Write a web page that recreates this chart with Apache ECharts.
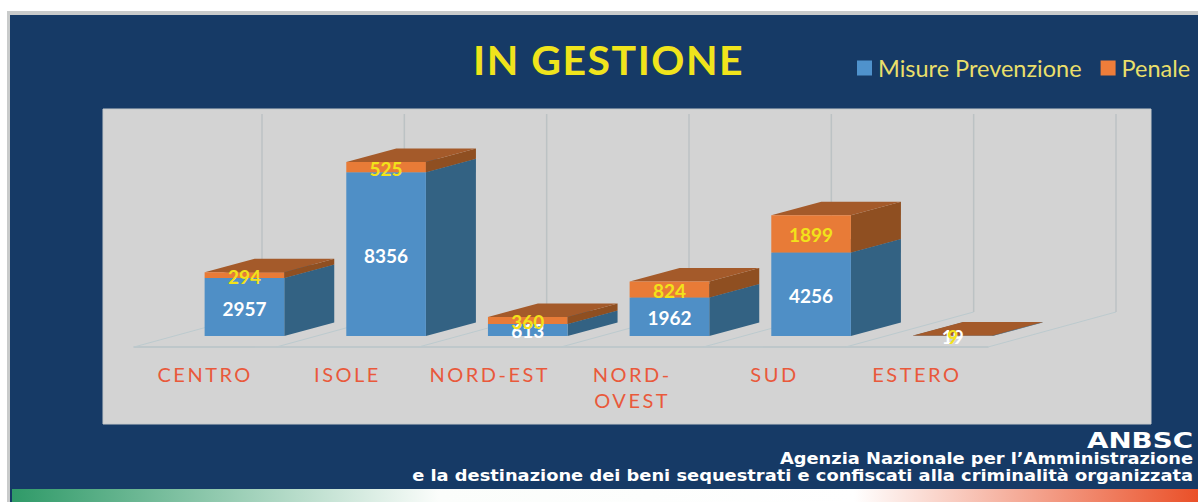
<!DOCTYPE html>
<html>
<head>
<meta charset="utf-8">
<title>In gestione</title>
<script src="https://cdn.jsdelivr.net/npm/echarts@6/dist/echarts.min.js"></script>
<style>
  html, body { margin: 0; padding: 0; background: #fff; }
  #chart { width: 1198px; height: 502px; }
  /* the svg renderer lets css space out the letters */
  #chart text[fill="#f0e41c"] { letter-spacing: 1.5px; }
  #chart text[fill="#e9593b"] { letter-spacing: 2.5px; }
</style>
</head>
<body>
<div id="chart"></div>
<script>
const categories = ['CENTRO', 'ISOLE', 'NORD-EST', 'NORD-OVEST', 'SUD', 'ESTERO']
const misure = [2957, 8356, 613, 1962, 4256, 19]
const penale = [294, 525, 360, 824, 1899, 9]

const depthBar = [50, -13.5]
const depthFloor = [128, -35]
const labelFont = 'Lato'

// one stacked block: front face, side face, top face, value on the front
function block(colors, textColor, layer) {
  return function (params, api) {
    const i = api.value(0)
    const base = api.value(1)
    const top = api.value(2)
    const w = api.size([1, 0])[0] * 0.562
    const p0 = api.coord([i, base])
    const p1 = api.coord([i, top])
    const xl = p0[0] - w / 2
    const xr = p0[0] + w / 2
    const dx = depthBar[0]
    const dy = depthBar[1]
    return {
      type: 'group',
      children: [
        {
          type: 'polygon',
          z2: layer,
          shape: { points: [[xr, p0[1]], [xr + dx, p0[1] + dy], [xr + dx, p1[1] + dy], [xr, p1[1]]] },
          style: { fill: colors.side }
        },
        {
          type: 'polygon',
          z2: layer,
          shape: { points: [[xl, p1[1]], [xl + dx, p1[1] + dy], [xr + dx, p1[1] + dy], [xr, p1[1]]] },
          style: { fill: colors.top }
        },
        {
          type: 'rect',
          z2: layer,
          shape: { x: xl, y: p1[1], width: w, height: p0[1] - p1[1] },
          style: { fill: colors.front }
        },
        {
          type: 'text',
          z2: 10 + layer,
          style: {
            text: String(top - base),
            x: p0[0],
            y: (p0[1] + p1[1]) / 2 + 1,
            align: 'center',
            verticalAlign: 'middle',
            fill: textColor,
            font: '700 19px ' + labelFont
          }
        }
      ]
    }
  }
}

// floor diagonals and back wall lines, one at each category boundary
function floorLines(params, api) {
  const i = api.value(0)
  const band = api.size([1, 0])[0]
  const low = api.coord([i, 0])
  const high = api.coord([i, 10000])
  const line = (x) => [
    {
      type: 'line',
      shape: { x1: x, y1: low[1], x2: x + depthFloor[0], y2: low[1] + depthFloor[1] },
      style: { stroke: '#bccace', lineWidth: 1 }
    },
    {
      type: 'line',
      shape: {
        x1: x + depthFloor[0], y1: low[1] + depthFloor[1],
        x2: x + depthFloor[0], y2: high[1] + depthFloor[1]
      },
      style: { stroke: '#bcc2c4', lineWidth: 1.5 }
    }
  ]
  let children = line(low[0] - band / 2)
  if (i === categories.length - 1) {
    children = children.concat(line(low[0] + band / 2))
  }
  return { type: 'group', children }
}

// footer lines are a wide type, so stretch dejavu bold sideways
function footerText(text, y, size, stretch) {
  return {
    type: 'text',
    x: 1193,
    y: y,
    scaleX: stretch,
    z: 5,
    style: {
      text: text,
      align: 'right',
      verticalAlign: 'middle',
      fill: '#ffffff',
      font: '700 ' + size + 'px "DejaVu Sans"'
    }
  }
}

const chart = echarts.init(document.getElementById('chart'), null, { renderer: 'svg' })

chart.setOption({
  animation: false,
  backgroundColor: '#ffffff',
  title: {
    text: 'IN GESTIONE',
    left: 473,
    top: 39,
    padding: 0,
    textStyle: { color: '#f0e41c', fontFamily: labelFont, fontWeight: 700, fontSize: 41 }
  },
  legend: {
    left: 857,
    top: 56,
    padding: 0,
    itemWidth: 15,
    itemHeight: 15,
    itemGap: 19,
    icon: 'rect',
    data: ['Misure Prevenzione', 'Penale'],
    textStyle: { color: '#e9df6a', fontFamily: labelFont, fontSize: 23.5, padding: [0, 0, 0, 1] }
  },
  graphic: [
    { type: 'rect', z: -10, shape: { x: 7, y: 11, width: 1191, height: 491 }, style: { fill: '#c9cbcb' } },
    { type: 'rect', z: -9, shape: { x: 10, y: 15, width: 1188, height: 487 }, style: { fill: '#163a66' } },
    { type: 'rect', z: -8, shape: { x: 103, y: 109, width: 1048, height: 315 }, style: { fill: '#d3d3d3', stroke: '#c4c8ca', lineWidth: 1 } },
    {
      type: 'rect',
      z: -8,
      shape: { x: 12, y: 489, width: 1186, height: 13 },
      style: {
        fill: {
          type: 'linear',
          x: 0, y: 0, x2: 1, y2: 0,
          colorStops: [
            { offset: 0, color: '#2f9a68' },
            { offset: 0.36, color: '#fbfdfb' },
            { offset: 0.71, color: '#ffffff' },
            { offset: 1, color: '#ea5028' }
          ]
        }
      }
    },
    footerText('ANBSC', 441, 21, 1.32),
    footerText('Agenzia Nazionale per l’Amministrazione', 458, 16, 1.115),
    footerText('e la destinazione dei beni sequestrati e confiscati alla criminalità organizzata', 475, 16, 1.115)
  ],
  grid: [
    { left: 173.6, width: 850, top: 140, height: 196 },
    { left: 134, width: 854, top: 149, height: 198 }
  ],
  xAxis: [
    { type: 'category', gridIndex: 0, data: categories, show: false },
    {
      type: 'category',
      gridIndex: 1,
      data: categories,
      axisTick: { show: false },
      axisLine: { lineStyle: { color: '#b8c4c8', width: 1.5 } },
      axisLabel: {
        interval: 0,
        margin: 14,
        color: '#e9593b',
        fontFamily: labelFont,
        fontSize: 20,
        lineHeight: 26,
        formatter: (v) => v.replace('NORD-OVEST', 'NORD-\nOVEST')
      }
    }
  ],
  yAxis: [
    { type: 'value', gridIndex: 0, min: 0, max: 10000, show: false },
    { type: 'value', gridIndex: 1, min: 0, max: 10000, show: false }
  ],
  series: [
    {
      type: 'custom',
      xAxisIndex: 1,
      yAxisIndex: 1,
      z: 1,
      silent: true,
      renderItem: floorLines,
      data: categories.map((c, i) => [i, 0])
    },
    {
      name: 'Misure Prevenzione',
      type: 'custom',
      xAxisIndex: 0,
      yAxisIndex: 0,
      z: 3,
      itemStyle: { color: '#4f92cc' },
      renderItem: block({ front: '#4f8fc6', side: '#336283', top: '#336283' }, '#ffffff', 1),
      encode: { x: 0, y: 2 },
      data: misure.map((v, i) => [i, 0, v])
    },
    {
      name: 'Penale',
      type: 'custom',
      xAxisIndex: 0,
      yAxisIndex: 0,
      z: 3,
      itemStyle: { color: '#ee7d3a' },
      renderItem: block({ front: '#e87b37', side: '#8f4f21', top: '#a45a2a' }, '#f2e21a', 2),
      encode: { x: 0, y: 2 },
      data: penale.map((v, i) => [i, misure[i], misure[i] + v])
    }
  ]
})
</script>
</body>
</html>
